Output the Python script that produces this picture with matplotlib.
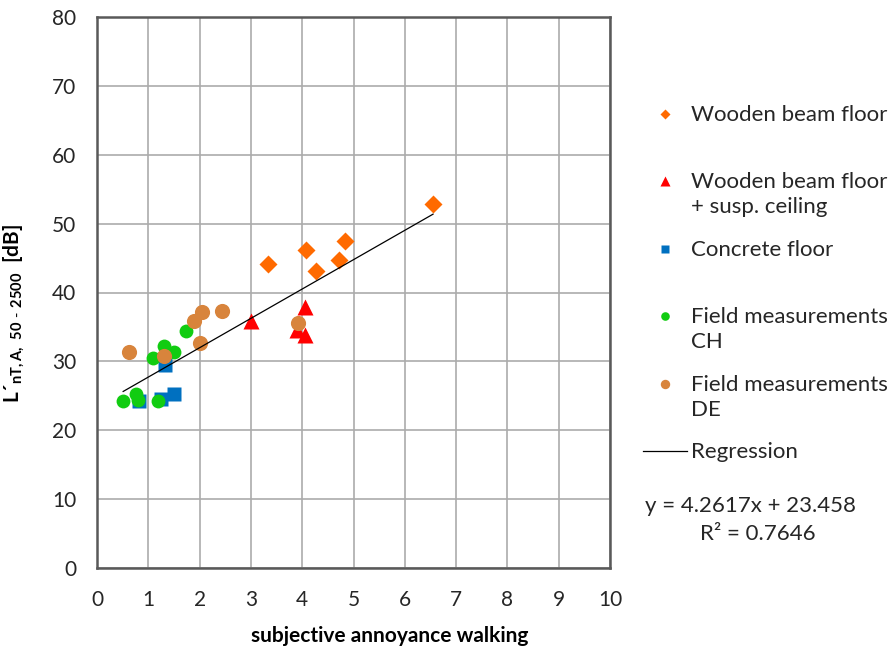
import matplotlib
matplotlib.use("Agg")
import matplotlib.pyplot as plt
import numpy as np
from matplotlib.legend_handler import HandlerLine2D
from matplotlib.lines import Line2D

# data
wood_x = [3.33, 4.07, 4.27, 4.72, 4.83, 6.55]
wood_y = [44.1, 46.2, 43.1, 44.7, 47.5, 52.8]

susp_x = [3.00, 4.05, 3.89, 4.05]
susp_y = [35.8, 37.9, 34.5, 33.8]

conc_x = [0.81, 1.24, 1.51, 1.33]
conc_y = [24.2, 24.6, 25.3, 29.5]

ch_x = [0.51, 0.76, 0.79, 1.19, 1.10, 1.31, 1.50, 1.73]
ch_y = [24.2, 25.2, 24.4, 24.2, 30.5, 32.3, 31.4, 34.4]

de_x = [0.62, 1.30, 1.90, 2.05, 2.43, 2.01, 3.91]
de_y = [31.3, 30.8, 35.9, 37.2, 37.3, 32.7, 35.6]

slope = 4.2617
intercept = 23.458
r2 = 0.7646

plt.rcParams['font.family'] = ['Lato', 'DejaVu Sans']
plt.rcParams['mathtext.fontset'] = 'custom'
plt.rcParams['mathtext.rm'] = 'Lato'
plt.rcParams['mathtext.bf'] = 'Lato:bold'

fig = plt.figure(figsize=(8.91, 6.52), dpi=100)
ax = fig.add_axes([97 / 891, 84 / 652, 513 / 891, 551 / 652])

ms = 9.5
ax.plot(wood_x, wood_y, 'D', color='#FF6A00', ms=ms * 0.95, mec='none', label='Wooden beam floor\n')
ax.plot(susp_x, susp_y, '^', color='#FF0000', ms=ms * 1.15, mec='none', label='Wooden beam floor\n+ susp. ceiling')
ax.plot(conc_x, conc_y, 's', color='#0070C0', ms=ms * 1.0, mec='none', label='Concrete floor\n')
ax.plot(ch_x, ch_y, 'o', color='#11CC11', ms=ms * 1.05, mec='none', label='Field measurements\nCH')
ax.plot(de_x, de_y, 'o', color='#D8843C', ms=ms * 1.15, mec='none', label='Field measurements\nDE')

all_x = np.array(wood_x + susp_x + conc_x + ch_x + de_x)
rx = np.array([all_x.min(), all_x.max()])
ax.plot(rx, slope * rx + intercept, color='black', lw=0.9, label='Regression')

ax.set_xlim(0, 10)
ax.set_ylim(0, 80)
ax.set_xticks(range(0, 11))
ax.set_yticks(range(0, 81, 10))
ax.grid(True, color='#ABABAB', lw=1.2)
ax.set_axisbelow(True)
for s in ax.spines.values():
    s.set_color('#595959')
    s.set_linewidth(1.8)
ax.tick_params(length=0, labelsize=15, colors='#262626')
ax.tick_params(axis='x', pad=16)
ax.tick_params(axis='y', pad=15)

ax.set_xlabel('subjective annoyance walking', fontsize=15, fontweight='bold')
ax.xaxis.set_label_coords((390 - 97) / 513, -(626 - 568) / 551)
ax.set_ylabel("L\u00b4$_{\\mathbf{nT,A,\\ 50\\ \\text{-}\\ 2500}}$  [dB]", fontsize=15, fontweight='bold')
ax.yaxis.set_label_coords(-(97 - 27) / 513, (568 - 313) / 551)


class FirstLine(HandlerLine2D):
    # put the marker next to the first line of a two-line label
    def create_artists(self, legend, orig_handle, xdescent, ydescent, width, height, fontsize, trans):
        arts = super().create_artists(legend, orig_handle, xdescent, ydescent, width, height, fontsize, trans)
        if orig_handle.get_linestyle() in ('None', 'none', ''):
            for a in arts:
                a.set_ydata(np.asarray(a.get_ydata()) + fontsize * 0.62)
        return arts


handles, labels = ax.get_legend_handles_labels()
leg = ax.legend(handles, labels, loc='upper left', bbox_to_anchor=(643 / 891, 1 - 105 / 652),
                bbox_transform=fig.transFigure, frameon=False, fontsize=16, markerscale=0.62,
                handlelength=2.0, handletextpad=0.15, labelspacing=1.02, borderpad=0, borderaxespad=0,
                handler_map={Line2D: FirstLine()})
for t in leg.get_texts():
    t.set_linespacing(1.3)
    t.set_color('#262626')

fig.text(645 / 891, 1 - 506 / 652, 'y = %.4fx + %.3f' % (slope, intercept), fontsize=16,
         color='#262626', va='center', ha='left')
fig.text(700 / 891, 1 - 534 / 652, 'R\u00b2 = %.4f' % r2, fontsize=16,
         color='#262626', va='center', ha='left')

fig.savefig('out.png', dpi=100)
